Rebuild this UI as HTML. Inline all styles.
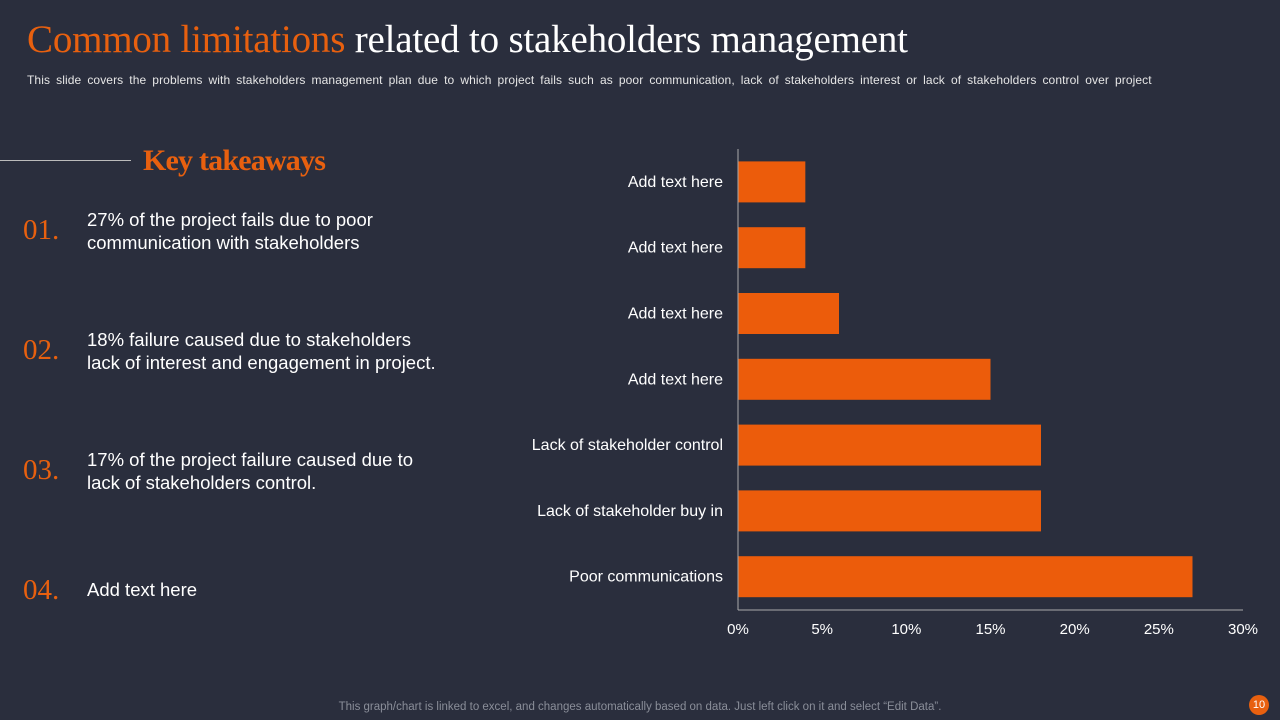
<!DOCTYPE html>
<html><head><meta charset="utf-8"><style>
body{margin:0;width:1280px;height:720px;overflow:hidden;background:#2a2e3d;font-family:"Liberation Sans",sans-serif;position:relative}
.abs{position:absolute}
.title{left:27px;top:17px;font-family:"Liberation Serif",serif;font-size:39px;color:#fff;white-space:nowrap;letter-spacing:-0.2px}
.or{color:#e8600f}
.sub{left:27px;top:73px;font-size:12px;color:#e6e6e6;white-space:nowrap;word-spacing:2.6px;letter-spacing:0.1px}
.kt{left:143px;top:144px;font-family:"Liberation Serif",serif;font-size:30px;color:#e8600f;font-weight:bold;letter-spacing:-0.8px}
.num{left:23px;font-family:"Liberation Serif",serif;font-size:29px;color:#e8600f}
.txt{left:87px;font-size:18.5px;color:#fff;line-height:23px}
.foot{left:0;width:1280px;text-align:center;top:701px;font-size:11.5px;color:#8a8e99}
</style></head><body>
<div class="abs title"><span class="or">Common limitations</span> related to stakeholders management</div>
<div class="abs sub">This slide covers the problems with stakeholders management plan due to which project fails such as poor communication, lack of stakeholders interest or lack of stakeholders control over project</div>
<div class="abs" style="left:0;top:160px;width:131px;height:1px;background:#bbb"></div>
<div class="abs kt">Key takeaways</div>
<div class="abs num" style="top:214px">01.</div>
<div class="abs txt" style="top:208px">27% of the project fails due to poor<br>communication with stakeholders</div>
<div class="abs num" style="top:334px">02.</div>
<div class="abs txt" style="top:328px">18% failure caused due to stakeholders<br>lack of interest and engagement in project.</div>
<div class="abs num" style="top:454px">03.</div>
<div class="abs txt" style="top:448px">17% of the project failure caused due to<br>lack of stakeholders control.</div>
<div class="abs num" style="top:574px">04.</div>
<div class="abs txt" style="top:578px">Add text here</div>
<svg class="abs" style="left:0;top:0" width="1280" height="720" id="chart"></svg>
<div class="abs foot">This graph/chart is linked to excel, and changes automatically based on data. Just left click on it and select “Edit Data”.</div>
<div class="abs" style="left:1249px;top:695px;width:20px;height:20px;border-radius:50%;background:#e8600f;color:#fff;font-size:11px;text-align:center;line-height:20px">10</div>
<script>
const categories=["Add text here","Add text here","Add text here","Add text here","Lack of stakeholder control","Lack of stakeholder buy in","Poor communications"];
const values=[4,4,6,15,18,18,27];
const ticks=[0,5,10,15,20,25,30];
const NS="http://www.w3.org/2000/svg",svg=document.getElementById('chart');
const x0=738,x1=1243,xMax=30,yTop=149,step=65.8,bh=41;
const xs=v=>x0+(v/xMax)*(x1-x0);
const yc=i=>yTop+step*(i+0.5);
function mk(t,a){const e=document.createElementNS(NS,t);for(const k in a)e.setAttribute(k,a[k]);svg.appendChild(e);return e;}
categories.forEach((c,i)=>{
 const r=mk('rect',{x:x0,y:yc(i)-bh/2,width:xs(values[i])-x0,height:bh,fill:'#ec5c0b'});
 
 
 const t=mk('text',{x:723,y:yc(i)+5,'text-anchor':'end',fill:'#fff','font-size':16,'font-family':'Liberation Sans,sans-serif'});
 t.textContent=c;
 
 
});
const ya=mk('line',{x1:x0,y1:yTop,x2:x0,y2:610,stroke:'#aaa','stroke-width':1});


const xa=mk('line',{x1:x0,y1:610,x2:x1,y2:610,stroke:'#aaa','stroke-width':1});


ticks.forEach(v=>{
 const t=mk('text',{x:xs(v),y:634,'text-anchor':'middle',fill:'#fff','font-size':15,'font-family':'Liberation Sans,sans-serif'});
 t.textContent=v+'%';
 
 
});
</script>
</body></html>
